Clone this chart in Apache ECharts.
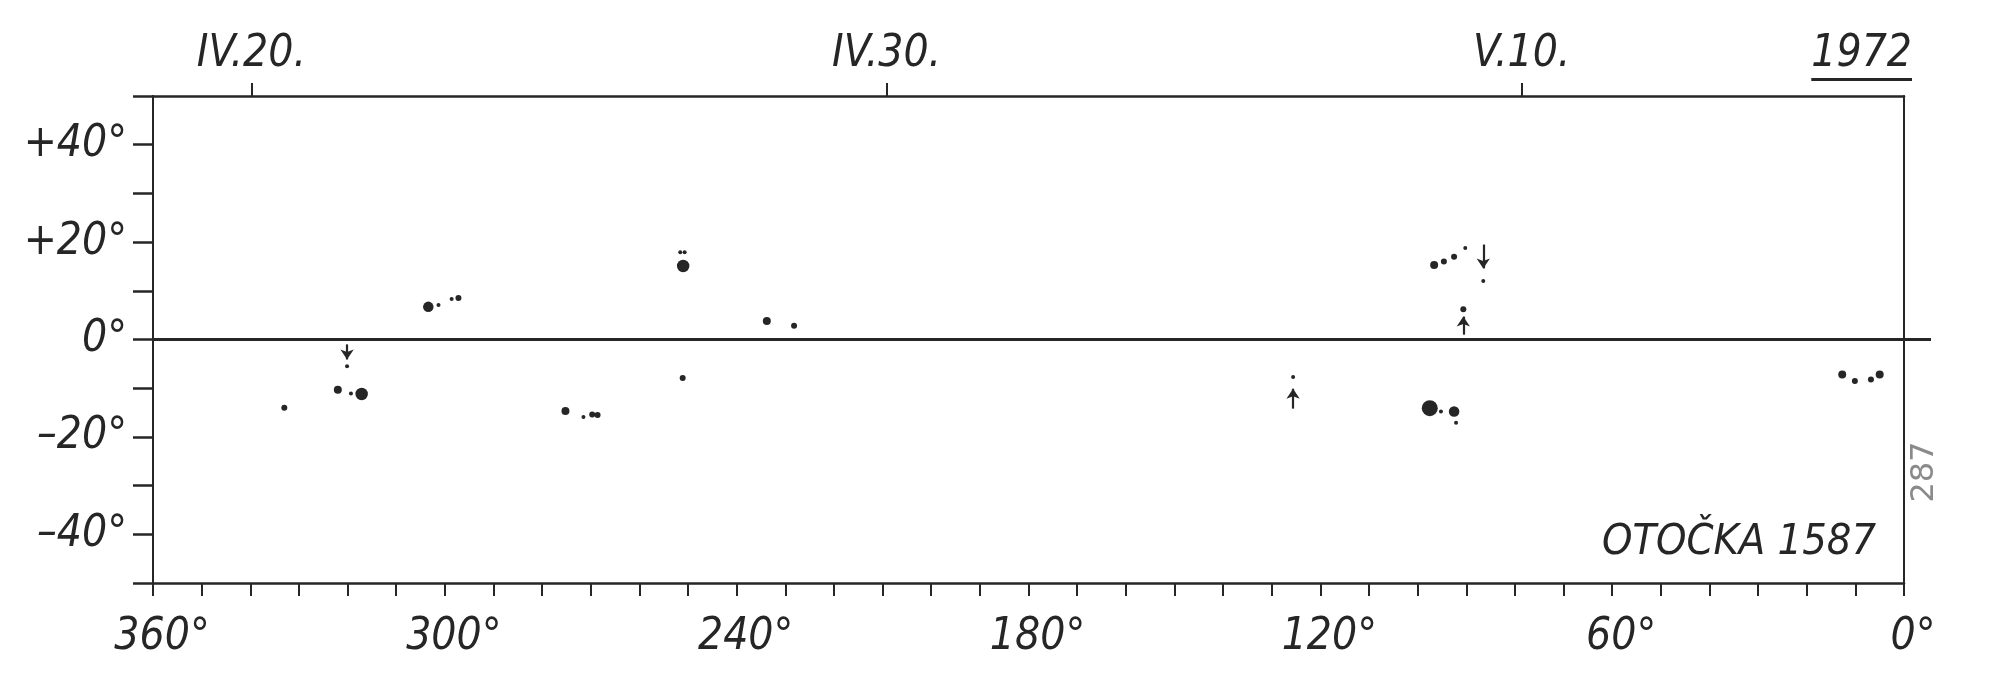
<!DOCTYPE html>
<html>
<head>
<meta charset="utf-8">
<script src="https://cdn.jsdelivr.net/npm/echarts@6/dist/echarts.min.js"></script>
<style>
html,body{margin:0;padding:0;background:#fff;}
#chart{width:2000px;height:682px;}
</style>
</head>
<body>
<div id="chart"></div>
<script>
// ---- data ----
// heliographic longitude / latitude of sunspot groups, and relative spot size class
const spotLon = [333.0, 320.1, 322.0, 319.3, 317.1, 303.4, 301.3, 298.6, 297.2, 275.2, 271.5, 269.7, 268.6, 251.0, 251.6, 250.7, 251.1, 233.8, 228.2, 125.6, 96.6, 94.6, 92.5, 90.2, 86.5, 90.6, 97.5, 95.2, 92.5, 92.1, 12.7, 10.1, 6.8, 5.0];
const spotLat = [-14.0, -5.5, -10.3, -11.1, -11.2, 6.7, 7.1, 8.3, 8.5, -14.7, -15.9, -15.4, -15.5, 15.1, 17.9, 17.9, -7.9, 3.8, 2.8, -7.7, 15.3, 16.0, 17.0, 18.8, 12.0, 6.2, -14.1, -14.8, -14.8, -17.1, -7.2, -8.5, -8.2, -7.2];
const spotClass = [2, 1, 3, 1, 5, 4, 1, 1, 2, 3, 1, 2, 2, 5, 1, 1, 2, 3, 2, 1, 3, 2, 2, 1, 1, 2, 6, 1, 4, 1, 3, 2, 2, 3];
// arrows (longitude, latitude of tail, latitude of tip)
const arrowLon = [320.1, 125.6, 86.5, 90.6];
const arrowFromLat = [-1.0, -14.2, 19.5, 1.0];
const arrowToLat = [-4.1, -10.1, 14.6, 4.7];
// tick labels
const lonLabels = [360, 300, 240, 180, 120, 60, 0];
const latLabels = [-40, -20, 0, 20, 40];
const dateDays = [20, 30, 40];            // days counted from 1 April 1972
const dateLabels = ['IV.20.', 'IV.30.', 'V.10.'];
const dayAtLon360 = 18.45, dayAtLon0 = 46.02;
const yearLabel = '1972';
const rotationLabel = 'OTOČKA 1587';
const marginNote = '287';

// ---- styling ----
const INK = '#262626';
const FONT = "'Liberation Sans Narrow','DejaVu Sans Condensed','Liberation Sans',sans-serif";
const FS = 44;
const SIZE_PX = [0, 4, 6, 8, 10.5, 12.5, 16];

function measure(text, size) {
  const c = document.createElement('canvas').getContext('2d');
  c.font = 'italic ' + size + 'px ' + FONT;
  return c.measureText(text).width;
}
const lblStyle = {fontSize: FS, fontStyle: 'italic', fontFamily: FONT, color: INK};

const chart = echarts.init(document.getElementById('chart'), null, {renderer: 'canvas'});
const option = {
  animation: false,
  backgroundColor: '#ffffff',
  grid: {left: 153, right: 96, top: 96, bottom: 99},
  xAxis: [
    {
      type: 'value', min: 0, max: 360, interval: 10, inverse: true, position: 'bottom',
      axisLine: {show: true, onZero: false, lineStyle: {color: INK, width: 2.5}},
      axisTick: {show: true, inside: false, length: 13, lineStyle: {color: INK, width: 2}},
      axisLabel: Object.assign({customValues: lonLabels, formatter: v => v + '°', margin: 33,
        padding: [0, 0, 0, 18], showMinLabel: true, showMaxLabel: true}, lblStyle),
      splitLine: {show: false}
    },
    {
      type: 'value', position: 'top', min: dayAtLon360, max: dayAtLon0,
      axisLine: {show: true, onZero: false, lineStyle: {color: INK, width: 2.5}},
      axisTick: {show: true, inside: false, customValues: dateDays, length: 13, lineStyle: {color: INK, width: 2}},
      axisLabel: Object.assign({customValues: dateDays, formatter: v => dateLabels[dateDays.indexOf(v)], margin: 19}, lblStyle),
      splitLine: {show: false}
    }
  ],
  yAxis: [
    {
      type: 'value', min: -50, max: 50, interval: 10, position: 'left',
      axisLine: {show: true, onZero: false, lineStyle: {color: INK, width: 2}},
      axisTick: {show: true, inside: false, length: 20, lineStyle: {color: INK, width: 2.5}},
      axisLabel: Object.assign({customValues: latLabels, margin: 26,
        formatter: v => (v > 0 ? '+' + v : (v < 0 ? '–' + (-v) : '' + v)) + '°'}, lblStyle),
      splitLine: {show: false}
    },
    {
      type: 'value', min: -50, max: 50, interval: 10, position: 'right',
      axisLine: {show: true, onZero: false, lineStyle: {color: INK, width: 2}},
      axisTick: {show: true, inside: false, customValues: [0], length: 27, lineStyle: {color: INK, width: 3}},
      axisLabel: {show: false},
      splitLine: {show: false}
    }
  ],
  series: [
    {
      type: 'scatter', xAxisIndex: 0, yAxisIndex: 0,
      data: spotLon.map((x, i) => [x, spotLat[i], spotClass[i]]),
      symbol: 'circle',
      symbolSize: d => SIZE_PX[d[2]],
      itemStyle: {color: INK, opacity: 1},
      markLine: {
        silent: true, symbol: 'none', label: {show: false},
        lineStyle: {color: INK, width: 3, type: 'solid'},
        data: [{yAxis: 0}]
      }
    },
    {
      type: 'lines', coordinateSystem: 'cartesian2d', xAxisIndex: 0, yAxisIndex: 0,
      symbol: ['none', 'arrow'], symbolSize: [0, 10],
      lineStyle: {color: INK, width: 2.2, opacity: 1, curveness: 0},
      data: arrowLon.map((x, i) => ({coords: [[x, arrowFromLat[i]], [x, arrowToLat[i]]]}))
    }
  ],
  graphic: [
    {type: 'text', right: 88, top: 33, style: {text: yearLabel, fontSize: 44, fontStyle: 'italic', fontFamily: FONT, fill: INK}},
    {type: 'rect', right: 88, top: 78, shape: {width: measure(yearLabel, 44), height: 3}, style: {fill: INK}},
    {type: 'text', right: 124, top: 521, style: {text: rotationLabel, fontSize: 43, fontStyle: 'italic', fontFamily: FONT, fill: INK}},
    {type: 'text', x: 1925, y: 472, rotation: Math.PI / 2, style: {text: marginNote, fontSize: 32, fontFamily: 'DejaVu Sans', fill: '#8a8a8a', align: 'center', verticalAlign: 'middle'}}
  ]
};
chart.setOption(option);
</script>
</body>
</html>
